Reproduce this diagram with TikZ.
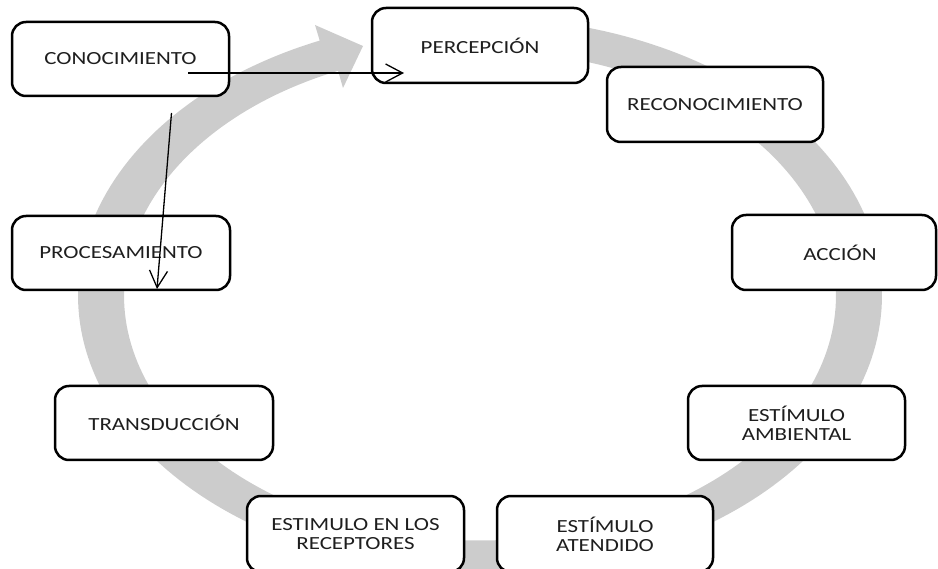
\documentclass[tikz,border=0pt]{standalone}
\usepackage{fontspec}
\setmainfont[FakeStretch=1.24]{Carlito}
\usetikzlibrary{arrows.meta}
\definecolor{ringgray}{RGB}{204,204,204}
\definecolor{txt}{RGB}{30,30,30}
\begin{document}
\begin{tikzpicture}[x=1pt,y=-1pt,
  stagebox/.style={draw=black, line width=2.5pt, rounded corners=14pt, fill=white,
    minimum width=217pt, minimum height=74pt, inner sep=0pt, align=center,
    text=txt, font=\fontsize{18.5}{19}\selectfont},
  flowarrow/.style={line width=1.3pt, -{Straight Barb[length=17pt,width=18pt,line width=1.3pt]}}]
\useasboundingbox (0,0) rectangle (938,569);
% gray cyclic arrow
\fill[ringgray]
  plot[domain=0:344.5, samples=240] ({480+402*cos(98-\x)},{295.5-278*sin(98-\x)})
  -- (315,25) -- (363,46) -- (343,88)
  -- plot[domain=0:344.5, samples=240] ({480+356*cos(-246.5+\x)},{295.5-245*sin(-246.5+\x)})
  -- cycle;
% stages
\node[stagebox] (cono) at (120.5,59) {CONOCIMIENTO};
\node[stagebox, minimum width=216pt, minimum height=75pt] (perc) at (480,45.5) {PERCEPCIÓN};
\node[stagebox, minimum width=216pt, minimum height=75pt] (reco) at (715,104.5) {RECONOCIMIENTO};
\node[stagebox, minimum width=204pt, minimum height=75pt] (acc) at (834,252.5) {\hspace*{12pt}ACCIÓN};
\node[stagebox, minimum width=218pt] (proc) at (121,253) {PROCESAMIENTO};
\node[stagebox, minimum width=218pt] (trans) at (164,423) {TRANSDUCCIÓN};
\node[stagebox, minimum height=76pt] (recep) at (355.5,534) {ESTIMULO EN LOS\\RECEPTORES};
\node[stagebox] (amb) at (796.5,423) {ESTÍMULO\\AMBIENTAL};
\node[stagebox, minimum width=216pt, minimum height=76pt] (aten) at (605,534) {ESTÍMULO\\ATENDIDO};
% black arrows
\coordinate (a1s) at (188,73);
\coordinate (a1e) at (404,73);
\coordinate (a2s) at (171.5,113);
\coordinate (a2e) at (157,289);
\draw[flowarrow] (a1s) -- (a1e);
\draw[flowarrow] (a2s) -- (a2e);
\end{tikzpicture}
\end{document}
